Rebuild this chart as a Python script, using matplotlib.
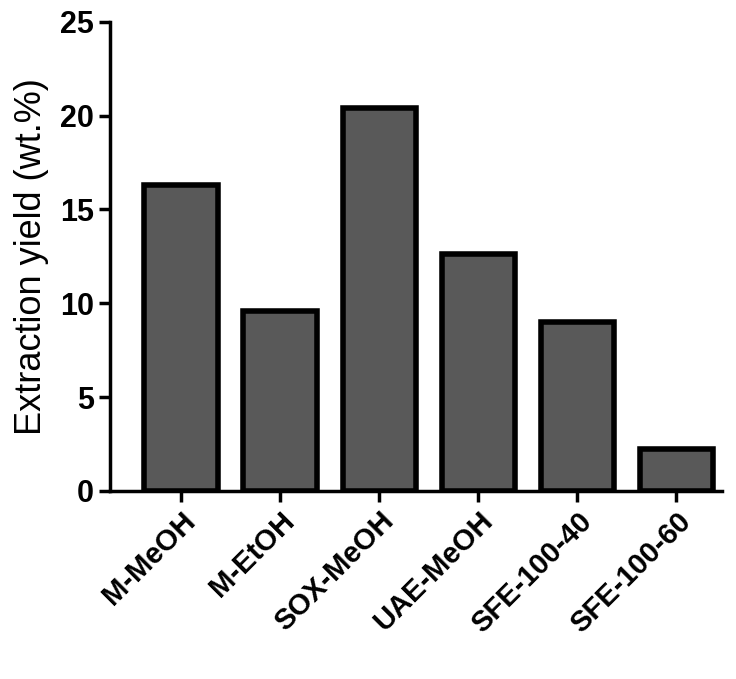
import matplotlib
matplotlib.use("Agg")
import matplotlib.pyplot as plt

categories = ["M-MeOH", "M-EtOH", "SOX-MeOH", "UAE-MeOH", "SFE-100-40", "SFE-100-60"]
values = [16.3, 9.6, 20.4, 12.6, 9.0, 2.25]

plt.rcParams['font.family'] = ['Liberation Sans', 'DejaVu Sans']
fig = plt.figure(figsize=(7.36, 6.79), dpi=100)
ax = fig.add_axes([0.149, 0.277, 0.832, 0.691])
x = list(range(len(categories)))
ax.bar(x, values, width=0.74, color="#595959", edgecolor="black", linewidth=4)
ax.set_xlim(-0.72, 5.46)
ax.set_ylim(0, 25)
ax.set_yticks([0, 5, 10, 15, 20, 25])
ax.set_xticks(x)
ax.set_xticklabels(categories, rotation=45, ha="right", rotation_mode="anchor",
                   fontsize=21, fontweight="bold")
for t in ax.get_yticklabels():
    t.set_fontsize(22); t.set_fontweight("bold")
ax.set_ylabel("Extraction yield (wt.%)", fontsize=26, labelpad=8)
for s in ["top", "right"]:
    ax.spines[s].set_visible(False)
for s in ["left", "bottom"]:
    ax.spines[s].set_linewidth(2.5)
ax.tick_params(width=2.5, length=8)
fig.savefig("out.png", dpi=100)
